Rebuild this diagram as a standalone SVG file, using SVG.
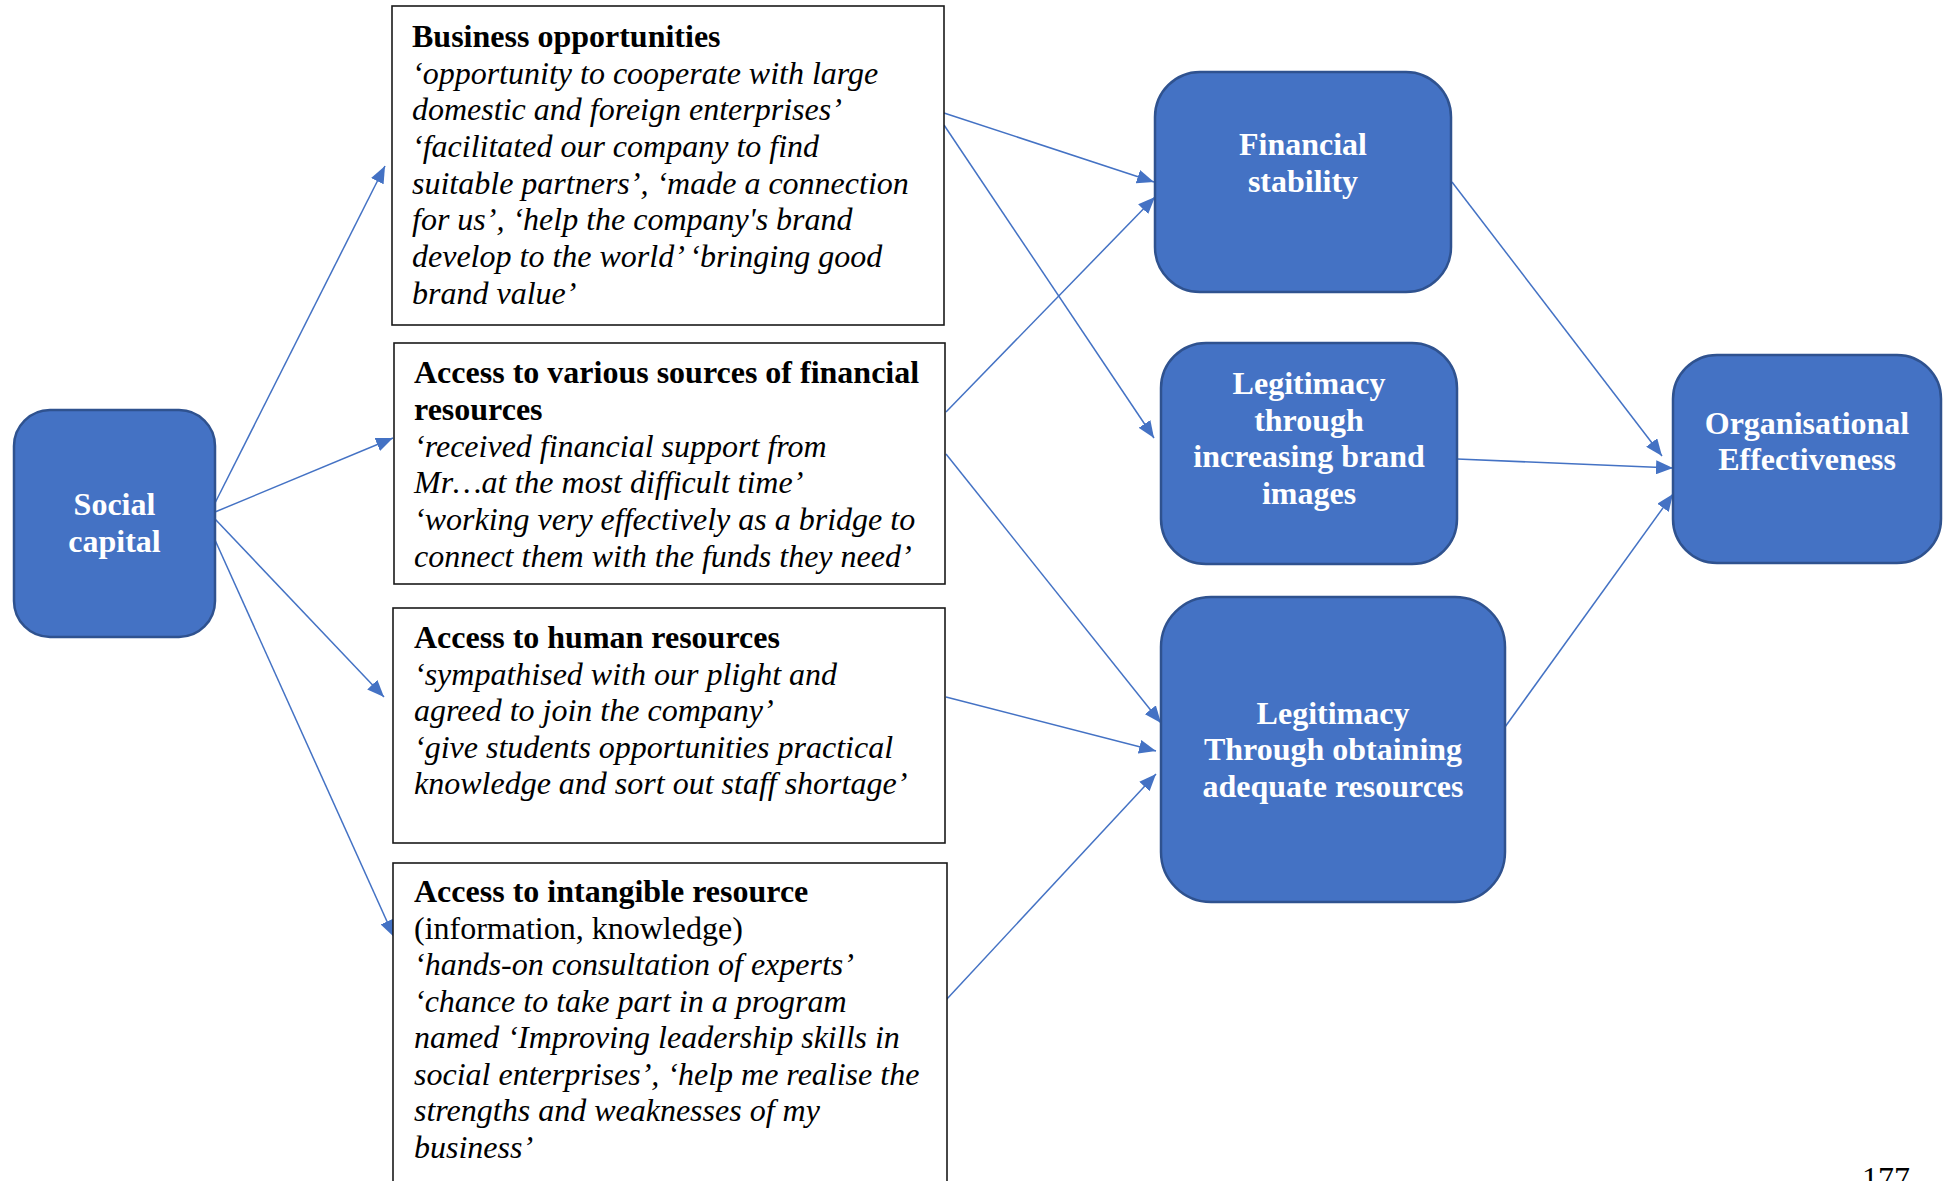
<svg xmlns="http://www.w3.org/2000/svg" width="1946" height="1181" viewBox="0 0 1946 1181">
  <defs>
    <style>
      .card { fill: #ffffff; stroke: #1a1a1a; stroke-width: 1.6; }
      .pill { fill: #4472C4; stroke: #2F528F; stroke-width: 2.5; }
      .t { font-family: "Liberation Serif", "Times New Roman", serif; font-size: 32px; fill: #000000; }
      .b { font-weight: bold; }
      .i { font-style: italic; }
      .w { font-family: "Liberation Serif", "Times New Roman", serif; font-size: 32px; font-weight: bold; fill: #ffffff; text-anchor: middle; }
      .edge { stroke: #4472C4; stroke-width: 1.5; fill: none; marker-end: url(#head); }
    </style>
    <marker id="head" markerUnits="userSpaceOnUse" markerWidth="18" markerHeight="14" refX="17" refY="7" orient="auto">
      <path d="M0,0 L17,7 L0,14 z" fill="#4472C4"/>
    </marker>
  </defs>

  <rect width="1946" height="1181" fill="#ffffff"/>

  <!-- connectors -->
  <g id="connectors">
    <line class="edge" x1="215" y1="503" x2="385" y2="166"/>
    <line class="edge" x1="215" y1="512" x2="393" y2="438"/>
    <line class="edge" x1="215" y1="519" x2="384" y2="697"/>
    <line class="edge" x1="215" y1="540" x2="394" y2="937"/>
    <line class="edge" x1="944" y1="113" x2="1154" y2="182"/>
    <line class="edge" x1="944" y1="125" x2="1154" y2="438"/>
    <line class="edge" x1="946" y1="412" x2="1155" y2="197"/>
    <line class="edge" x1="946" y1="454" x2="1161" y2="723"/>
    <line class="edge" x1="946" y1="697" x2="1156" y2="751"/>
    <line class="edge" x1="946" y1="1000" x2="1156" y2="774"/>
    <line class="edge" x1="1452" y1="182" x2="1662" y2="456"/>
    <line class="edge" x1="1457" y1="459" x2="1673" y2="468"/>
    <line class="edge" x1="1505" y1="727" x2="1673" y2="494"/>
  </g>

  <!-- source -->
  <g id="social-capital">
    <rect class="pill" x="14" y="410" width="201" height="227" rx="36" ry="36"/>
    <text class="w" x="114.5" y="515">Social</text>
    <text class="w" x="114.5" y="552">capital</text>
  </g>

  <!-- resource cards -->
  <g id="business-opportunities">
    <rect class="card" x="392" y="6" width="552" height="319"/>
    <text class="t" x="412">
      <tspan class="b" x="412" y="47">Business opportunities</tspan>
      <tspan class="i" x="412" y="83.5">‘opportunity to cooperate with large</tspan>
      <tspan class="i" x="412" y="120">domestic and foreign enterprises’</tspan>
      <tspan class="i" x="412" y="157">‘facilitated our company to find</tspan>
      <tspan class="i" x="412" y="193.5">suitable partners’, ‘made a connection</tspan>
      <tspan class="i" x="412" y="230">for us’, ‘help the company's brand</tspan>
      <tspan class="i" x="412" y="267">develop to the world’ ‘bringing good</tspan>
      <tspan class="i" x="412" y="303.5">brand value’</tspan>
    </text>
  </g>

  <g id="financial-resources">
    <rect class="card" x="394" y="343" width="551" height="241"/>
    <text class="t" x="414">
      <tspan class="b" x="414" y="383">Access to various sources of financial</tspan>
      <tspan class="b" x="414" y="420">resources</tspan>
      <tspan class="i" x="414" y="456.5">‘received financial support from</tspan>
      <tspan class="i" x="414" y="493">Mr…at the most difficult time’</tspan>
      <tspan class="i" x="414" y="530">‘working very effectively as a bridge to</tspan>
      <tspan class="i" x="414" y="566.5">connect them with the funds they need’</tspan>
    </text>
  </g>

  <g id="human-resources">
    <rect class="card" x="393" y="608" width="552" height="235"/>
    <text class="t" x="414">
      <tspan class="b" x="414" y="648">Access to human resources</tspan>
      <tspan class="i" x="414" y="684.5">‘sympathised with our plight and</tspan>
      <tspan class="i" x="414" y="721">agreed to join the company’</tspan>
      <tspan class="i" x="414" y="757.5">‘give students opportunities practical</tspan>
      <tspan class="i" x="414" y="794">knowledge and sort out staff shortage’</tspan>
    </text>
  </g>

  <g id="intangible-resource">
    <rect class="card" x="393" y="863" width="554" height="340"/>
    <text class="t" x="414">
      <tspan class="b" x="414" y="902">Access to intangible resource</tspan>
      <tspan x="414" y="938.5">(information, knowledge)</tspan>
      <tspan class="i" x="414" y="975">‘hands-on consultation of experts’</tspan>
      <tspan class="i" x="414" y="1011.5">‘chance to take part in a program</tspan>
      <tspan class="i" x="414" y="1048">named ‘Improving leadership skills in</tspan>
      <tspan class="i" x="414" y="1084.5">social enterprises’, ‘help me realise the</tspan>
      <tspan class="i" x="414" y="1121">strengths and weaknesses of my</tspan>
      <tspan class="i" x="414" y="1157.5">business’</tspan>
    </text>
  </g>

  <!-- outcomes -->
  <g id="financial-stability">
    <rect class="pill" x="1155" y="72" width="296" height="220" rx="45" ry="45"/>
    <text class="w" x="1303" y="155">Financial</text>
    <text class="w" x="1303" y="191.5">stability</text>
  </g>

  <g id="legitimacy-brand">
    <rect class="pill" x="1161" y="343" width="296" height="221" rx="45" ry="45"/>
    <text class="w" x="1309" y="394">Legitimacy</text>
    <text class="w" x="1309" y="430.5">through</text>
    <text class="w" x="1309" y="467">increasing brand</text>
    <text class="w" x="1309" y="503.5">images</text>
  </g>

  <g id="legitimacy-resources">
    <rect class="pill" x="1161" y="597" width="344" height="305" rx="50" ry="50"/>
    <text class="w" x="1333" y="723.5">Legitimacy</text>
    <text class="w" x="1333" y="760">Through obtaining</text>
    <text class="w" x="1333" y="796.5">adequate resources</text>
  </g>

  <g id="organisational-effectiveness">
    <rect class="pill" x="1673" y="355" width="268" height="208" rx="44" ry="44"/>
    <text class="w" x="1807" y="433.5">Organisational</text>
    <text class="w" x="1807" y="470">Effectiveness</text>
  </g>

  <!-- page number -->
  <text class="t" x="1862" y="1189">177</text>
</svg>
